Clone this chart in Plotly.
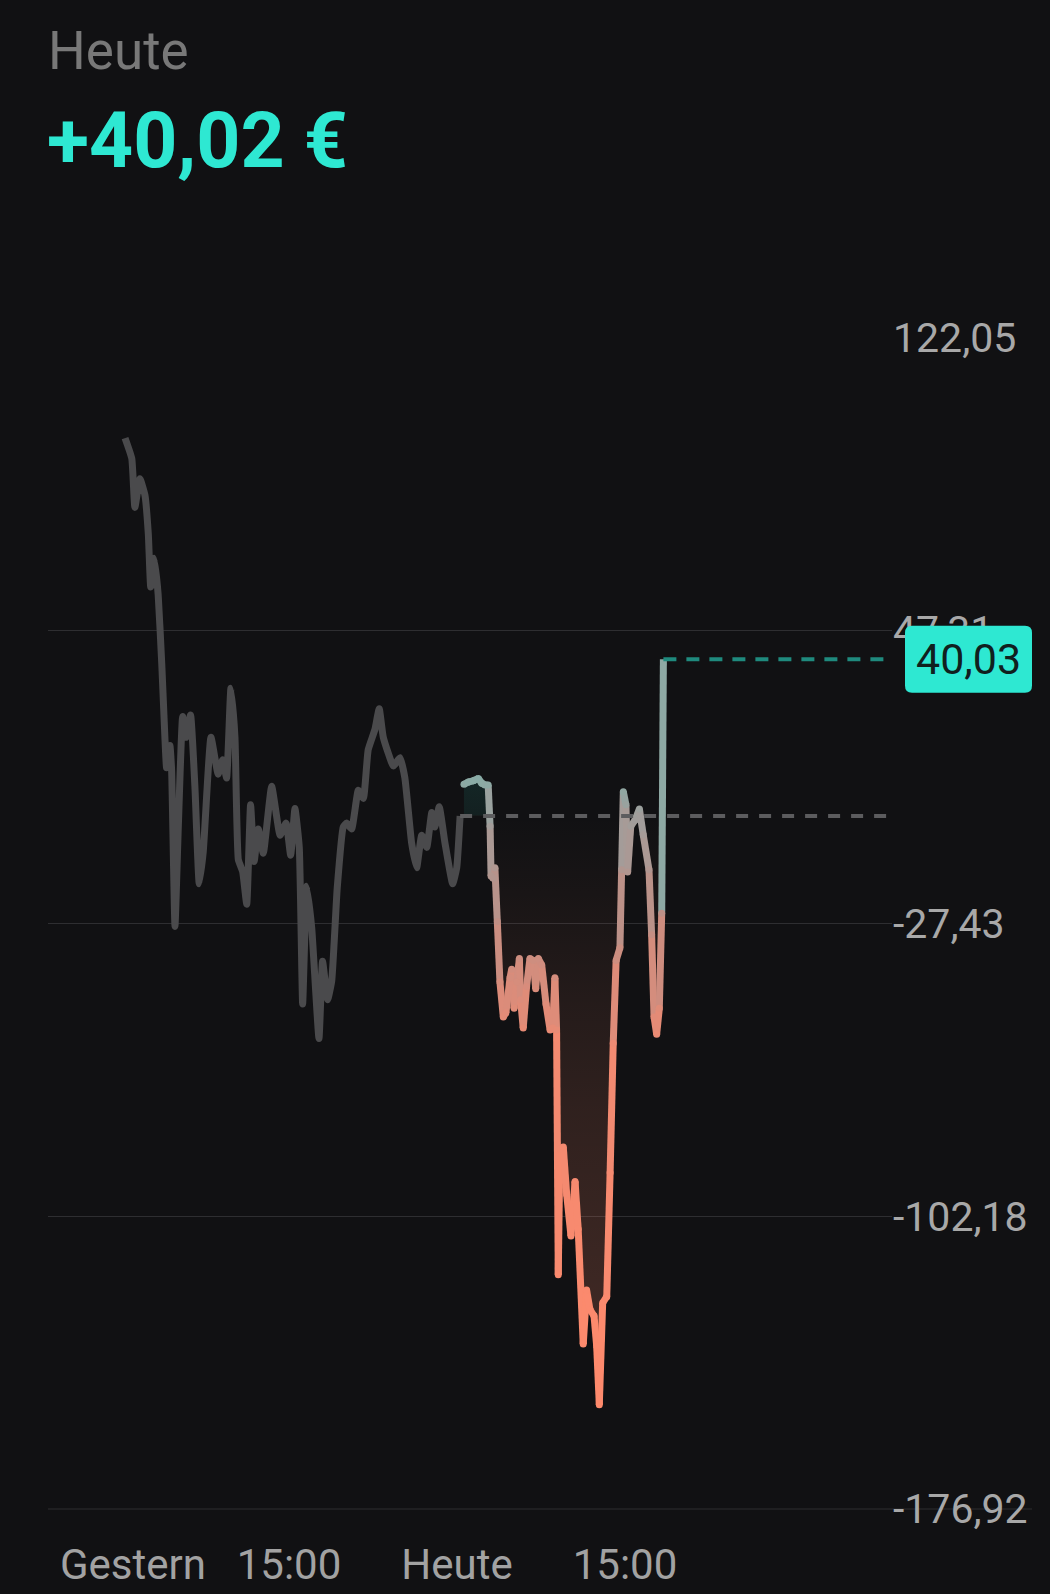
import plotly.graph_objects as go

# ---------------- data ----------------
# time axis: hours of trading time, 0 = yesterday 08:00, 14 = today 08:00
YESTERDAY_T = [0.17, 0.45, 0.58, 0.79, 1.00, 1.14, 1.24, 1.39, 1.55, 1.70, 1.83, 1.90, 2.04, 2.11, 2.25,
               2.39, 2.57, 2.71, 2.90, 3.08, 3.26, 3.43, 3.75, 4.05, 4.24, 4.40, 4.58, 4.75, 4.89, 5.07,
               5.24, 5.40, 5.55, 5.72, 5.93, 6.28, 6.63, 6.88, 7.07, 7.25, 7.43, 7.57, 7.74, 7.95, 8.25,
               8.40, 8.61, 8.78, 9.01, 9.26, 9.40, 9.61, 9.89, 10.10, 10.30, 10.58, 10.76, 10.93, 11.35, 11.63,
               11.83, 12.11, 12.32, 12.53, 12.74, 12.95, 13.08, 13.26, 13.50, 13.82, 13.99, 14.13]
YESTERDAY_V = [96.5, 91.3, 78.8, 86.1, 81.9, 72.0, 58.5, 65.8, 56.5, 38.8, 20.1, 12.3, 18.0, 11.8, -28.2,
               -2.7, 25.4, 20.1, 25.8, 7.6, -17.3, -9.0, 20.1, 10.7, 14.4, 9.7, 32.6, 20.1, -11.1, -14.2,
               -22.5, 2.9, -11.6, -3.3, -9.5, 7.6, -4.9, -1.8, -10.0, 1.9, -8.0, -48.0, -17.9, -28.7, -56.8,
               -37.1, -46.9, -42.2, -18.4, -2.8, -1.8, -3.3, 6.6, 4.5, 16.9, 22.1, 27.4, 20.1, 12.8, 14.9,
               9.7, -6.9, -13.2, -4.9, -8.0, 0.9, -2.8, 2.4, -6.9, -17.3, -13.2, 0.0]

TODAY_T = [14.29, 14.47, 14.68, 14.89, 15.03, 15.17, 15.30, 15.38, 15.42, 15.51, 15.58, 15.68, 15.79, 15.93,
           16.04, 16.21, 16.28, 16.38, 16.49, 16.60, 16.65, 16.76, 16.90, 17.04, 17.18, 17.28, 17.39, 17.53,
           17.71, 17.88, 17.99, 18.08, 18.15, 18.22, 18.29, 18.43, 18.57, 18.75, 18.92, 19.05, 19.26, 19.40,
           19.54, 19.71, 19.82, 19.93, 20.07, 20.24, 20.38, 20.51, 20.63, 20.79, 20.86, 20.93, 21.04, 21.11,
           21.24, 21.42, 21.60, 21.76, 22.00, 22.11, 22.21, 22.32, 22.43, 22.53, 22.60]
TODAY_V = [8.1, 8.7, 9.0, 9.6, 8.4, 7.9, 7.9, -2.6, -15.3, -15.9, -13.2, -26.9, -42.4, -51.3, -50.2, -41.3,
           -39.1, -49.1, -42.4, -36.4, -46.9, -54.1, -43.5, -36.4, -36.9, -44.1, -36.4, -38.0, -48.0, -54.6,
           -54.1, -41.3, -54.6, -117.1, -85.0, -84.5, -96.6, -107.2, -93.3, -105.5, -134.8, -121.0, -126.0,
           -127.6, -135.3, -150.3, -124.3, -122.7, -91.1, -58.0, -36.9, -33.6, -13.7, 6.2, 2.9, -14.3, -2.6,
           -1.0, 1.8, -4.8, -13.7, -30.3, -51.3, -55.7, -49.1, -24.8, 40.03]

BASELINE = 0.0
TODAY_CHANGE = 40.02
TITLE = "Heute"

Y_TICKS = [122.05, 47.31, -27.43, -102.18, -176.92]
X_TICKS = [0.5, 7, 14, 21]
X_TICK_TEXT = ["Gestern", "15:00", "Heute", "15:00"]
X_RANGE = [-3.04, 32.125]
Y_RANGE = [-176.92, 122.05]

# ---------------- style ----------------
BG = "#111113"
GRID = "#2e2e31"
TEAL = "#2ee8d2"
FONT = "Roboto"
LW = 7
W, H = 1050, 1594
ML, MR, MT, MB = 48, 158, 338, 85
PW, PH = W - ML - MR, H - MT - MB

# line colour as a function of value (today)
COLOR_STOPS = [(-150, (255, 138, 108)), (-60, (240, 138, 114)), (-27, (192, 143, 133)),
               (0, (160, 158, 156)), (20, (112, 186, 176)), (40, (58, 216, 196))]


def color_at(v):
    if v <= COLOR_STOPS[0][0]:
        c = COLOR_STOPS[0][1]
    elif v >= COLOR_STOPS[-1][0]:
        c = COLOR_STOPS[-1][1]
    else:
        for (v0, c0), (v1, c1) in zip(COLOR_STOPS[:-1], COLOR_STOPS[1:]):
            if v0 <= v <= v1:
                f = (v - v0) / (v1 - v0)
                c = tuple(round(a + (b - a) * f) for a, b in zip(c0, c1))
                break
    return "rgb(%d,%d,%d)" % c


def fmt(v):
    return f"{v:.2f}".replace(".", ",")


fig = go.Figure()

# fill under today's line (to baseline 0)
vmin, vmax = min(TODAY_V), max(TODAY_V)
z = (BASELINE - vmin) / (vmax - vmin)
fig.add_trace(go.Scatter(
    x=TODAY_T, y=TODAY_V, mode="lines", line=dict(width=0, color="rgba(0,0,0,0)"),
    fill="tozeroy",
    fillgradient=dict(type="vertical", start=vmin, stop=vmax,
                      colorscale=[[0, "rgba(255,138,106,0.22)"],
                                  [z * 0.5, "rgba(255,138,106,0.13)"],
                                  [z, "rgba(255,138,106,0.0)"],
                                  [min(z + 0.001, 1), "rgba(46,232,210,0.07)"],
                                  [1, "rgba(46,232,210,0.2)"]]),
    hoverinfo="skip", showlegend=False))

# yesterday line
fig.add_trace(go.Scatter(
    x=YESTERDAY_T, y=YESTERDAY_V, mode="lines",
    line=dict(color="#4a4a4c", width=LW, shape="spline", smoothing=0.4),
    hoverinfo="skip", showlegend=False))

# today's line, segment by segment with value-based colour
for i in range(len(TODAY_T) - 1):
    mid = (TODAY_V[i] + TODAY_V[i + 1]) / 2
    fig.add_trace(go.Scatter(
        x=TODAY_T[i:i + 2], y=TODAY_V[i:i + 2], mode="lines",
        line=dict(color=color_at(mid), width=LW), hoverinfo="skip", showlegend=False))
fig.add_trace(go.Scatter(
    x=TODAY_T[:-1], y=TODAY_V[:-1], mode="markers",
    marker=dict(size=LW, color=[color_at(v) for v in TODAY_V[:-1]], line=dict(width=0)),
    hoverinfo="skip", showlegend=False))

last_v = TODAY_V[-1]
shapes = [
    dict(type="line", xref="x", yref="y", x0=YESTERDAY_T[-1], x1=X_RANGE[1], y0=BASELINE, y1=BASELINE,
         line=dict(color="#5c5c5e", width=4, dash="12px,11px"), layer="above"),
    dict(type="line", xref="x", yref="y", x0=TODAY_T[-1], x1=X_RANGE[1], y0=last_v, y1=last_v,
         line=dict(color="#1f8a7e", width=4, dash="13px,10px"), layer="above"),
    dict(type="line", xref="paper", yref="paper", x0=0, x1=(1032 - ML) / PW, y0=0, y1=0,
         line=dict(color=GRID, width=1), layer="below"),
]

# rounded label box for the last value
x0 = (905 - ML) / PW
x1 = (1032 - ML) / PW
yc = (last_v - Y_RANGE[0]) / (Y_RANGE[1] - Y_RANGE[0])
hh = 33.5 / PH
rx, ry = 7 / PW, 7 / PH
y0, y1 = yc - hh, yc + hh
path = (f"M {x0+rx},{y0} L {x1-rx},{y0} Q {x1},{y0} {x1},{y0+ry} L {x1},{y1-ry} "
        f"Q {x1},{y1} {x1-rx},{y1} L {x0+rx},{y1} Q {x0},{y1} {x0},{y1-ry} "
        f"L {x0},{y0+ry} Q {x0},{y0} {x0+rx},{y0} Z")
shapes.append(dict(type="path", xref="paper", yref="paper", path=path,
                   fillcolor=TEAL, line=dict(width=0), layer="above"))

annotations = [
    dict(text=TITLE, xref="paper", yref="paper", x=0, y=(PH + MT - 51) / PH, xanchor="left",
         yanchor="middle", showarrow=False, xshift=-2,
         font=dict(family=FONT, size=53, color="#787878")),
    dict(text=("+" if TODAY_CHANGE >= 0 else "") + fmt(TODAY_CHANGE) + " €", xref="paper", yref="paper",
         x=0, y=(PH + MT - 141) / PH, xanchor="left", yanchor="middle", showarrow=False, xshift=-3,
         font=dict(family=FONT, size=77, color=TEAL, weight="bold")),
    dict(text=fmt(last_v), xref="paper", yref="y", x=(x0 + x1) / 2, y=last_v, xanchor="center",
         yanchor="middle", showarrow=False, font=dict(family=FONT, size=43, color="#10201e")),
]

fig.update_layout(
    width=W, height=H, autosize=False,
    margin=dict(l=ML, r=MR, t=MT, b=MB, pad=0, autoexpand=False),
    paper_bgcolor=BG, plot_bgcolor=BG,
    showlegend=False, hovermode=False,
    shapes=shapes, annotations=annotations,
    xaxis=dict(range=X_RANGE, showgrid=False, zeroline=False, showline=False, automargin=False,
               tickmode="array", tickvals=X_TICKS, ticktext=X_TICK_TEXT,
               ticks="outside", ticklen=19, tickcolor="rgba(0,0,0,0)",
               tickfont=dict(family=FONT, size=42, color="#a2a2a2"), fixedrange=True),
    yaxis=dict(range=Y_RANGE, side="right", showgrid=True, gridcolor=GRID, gridwidth=1,
               zeroline=False, showline=False, ticks="", automargin=False,
               tickmode="array", tickvals=Y_TICKS, ticktext=[fmt(v) for v in Y_TICKS],
               tickfont=dict(family=FONT, size=41, color="#a8a8a8"), fixedrange=True),
)

fig.write_html("out.html", config={"displayModeBar": False},
               post_script="document.body.style.margin='0';document.body.style.backgroundColor='#111113';")
